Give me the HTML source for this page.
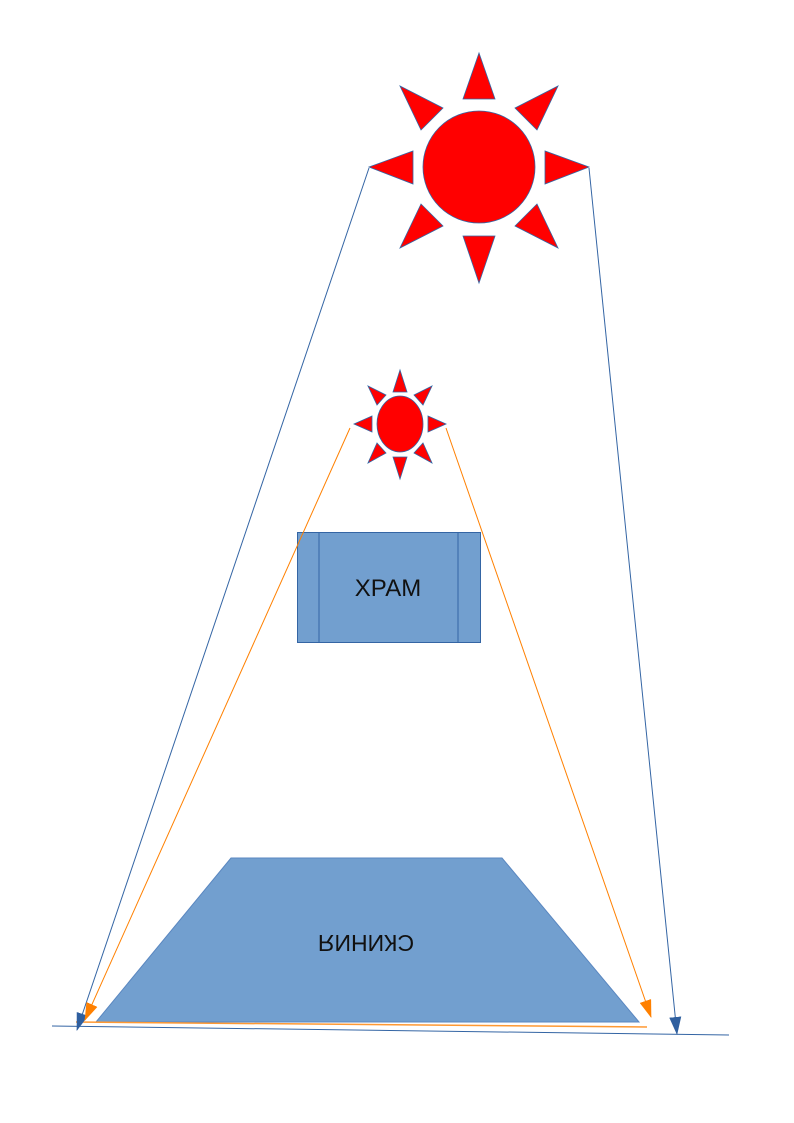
<!DOCTYPE html>
<html><head><meta charset="utf-8"><style>
html,body{margin:0;padding:0;background:#fff}
svg{display:block}
</style></head><body>
<svg width="794" height="1123" viewBox="0 0 794 1123" xmlns="http://www.w3.org/2000/svg">
<defs>
<marker id="ab" markerWidth="18" markerHeight="12" refX="17" refY="6" orient="auto" markerUnits="userSpaceOnUse"><path d="M0,0 L18,6 L0,12 z" fill="#2f5f9f"/></marker>
<marker id="ao" markerWidth="18" markerHeight="12" refX="17" refY="6" orient="auto" markerUnits="userSpaceOnUse"><path d="M0,0 L18,6 L0,12 z" fill="#ff8000"/></marker>
</defs>
<polygon points="231,858 502,858 639,1022 96,1022" fill="#729fcf" stroke="#5a87c0" stroke-width="1"/>
<text x="0" y="0" transform="translate(366,941) rotate(180)" font-family="Liberation Sans, sans-serif" font-size="23" text-anchor="middle" dominant-baseline="middle" fill="#111">СКИНИЯ</text>
<rect x="297.5" y="532.5" width="183" height="110" fill="#729fcf" stroke="#3465a4" stroke-width="1"/>
<line x1="319" y1="533" x2="319" y2="642" stroke="#3465a4"/>
<line x1="458" y1="533" x2="458" y2="642" stroke="#3465a4"/>
<text x="388" y="596" font-family="Liberation Sans, sans-serif" font-size="24" text-anchor="middle" fill="#111">ХРАМ</text>
<line x1="52" y1="1026" x2="729" y2="1035" stroke="#3465a4" stroke-width="1"/>
<line x1="76" y1="1022" x2="647" y2="1027" stroke="#ff9933" stroke-width="1.5"/>
<line x1="369" y1="168" x2="77" y2="1030" stroke="#3465a4" stroke-width="1" marker-end="url(#ab)"/>
<line x1="589" y1="168" x2="677" y2="1034" stroke="#3465a4" stroke-width="1" marker-end="url(#ab)"/>
<line x1="350" y1="428" x2="85" y2="1020" stroke="#ff8000" stroke-width="1" marker-end="url(#ao)"/>
<line x1="446" y1="428" x2="651" y2="1017" stroke="#ff8000" stroke-width="1" marker-end="url(#ao)"/>
<g fill="#ff0000" stroke="#3465a4" stroke-width="0.8">
<circle cx="479" cy="167" r="56"/>
<polygon points="479,53 463,99 495,99"/>
<polygon points="479,283 463,236 495,236"/>
<polygon points="369,167 413,151 413,184"/>
<polygon points="589,167 545,151 545,184"/>
<polygon points="400,86 443,108 421,130"/>
<polygon points="558,86 515,108 537,130"/>
<polygon points="400,248 443,226 421,204"/>
<polygon points="558,248 515,226 537,204"/>
</g>
<g fill="#ff0000" stroke="#3465a4" stroke-width="0.8">
<ellipse cx="400" cy="424" rx="23" ry="28"/>
<polygon points="400,370 393,392 407,392"/>
<polygon points="400,479 393,457 407,457"/>
<polygon points="354,424 372,416 372,432"/>
<polygon points="446,424 428,416 428,432"/>
<polygon points="368,386 386,395 377,405"/>
<polygon points="432,386 414,395 423,405"/>
<polygon points="368,463 386,453 377,443"/>
<polygon points="432,463 414,453 423,443"/>
</g>
</svg>
</body></html>
